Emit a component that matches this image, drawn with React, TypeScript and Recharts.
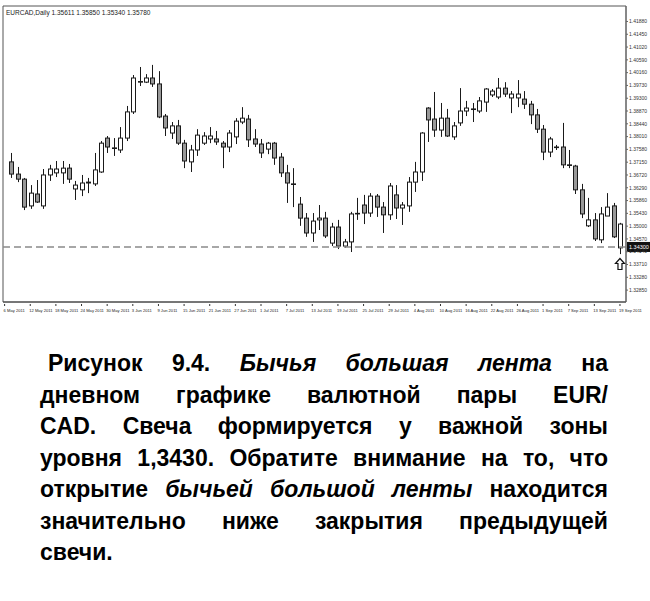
import React from 'react';
import { Bar, ComposedChart, ReferenceArea, ReferenceDot, ReferenceLine, XAxis, YAxis } from 'recharts';

// Daily EURCAD candles, 96 bars
const OPEN = [
    1.3716, 1.3675, 1.3658, 1.3568, 1.3608, 1.3568, 1.3672, 1.3679, 1.3679, 1.3695,
    1.3625, 1.3622, 1.3645, 1.3642, 1.3682, 1.3796, 1.3763, 1.3756, 1.3796, 1.3884,
    1.3984, 1.3984, 1.3998, 1.3978, 1.3870, 1.3813, 1.3837, 1.3779, 1.3716, 1.3756,
    1.3779, 1.3793, 1.3793, 1.3779, 1.3766, 1.3800, 1.3850, 1.3860, 1.3793, 1.3776,
    1.3759, 1.3779, 1.3732, 1.3679, 1.3642, 1.3574, 1.3527, 1.3477, 1.3521, 1.3527,
    1.3443, 1.3497, 1.3433, 1.3447, 1.3541, 1.3571, 1.3544, 1.3601, 1.3564, 1.3538,
    1.3605, 1.3561, 1.3568, 1.3648, 1.3682, 1.3897, 1.3860, 1.3823, 1.3863, 1.3800,
    1.3847, 1.3887, 1.3894, 1.3887, 1.3917, 1.3941, 1.3934, 1.3964, 1.3931, 1.3931,
    1.3927, 1.3910, 1.3874, 1.3826, 1.3749, 1.3766, 1.3766, 1.3706, 1.3702, 1.3622,
    1.3501, 1.3521, 1.3454, 1.3534, 1.3568, 1.3427,
];
const HIGH = [
    1.3746, 1.3699, 1.3662, 1.3638, 1.3655, 1.3692, 1.3706, 1.3719, 1.3719, 1.3709,
    1.3652, 1.3672, 1.3662, 1.3746, 1.3786, 1.3803, 1.3796, 1.3833, 1.3904, 1.4008,
    1.4035, 1.4011, 1.4042, 1.4021, 1.3877, 1.3850, 1.3857, 1.3790, 1.3773, 1.3826,
    1.3816, 1.3833, 1.3820, 1.3786, 1.3823, 1.3863, 1.3900, 1.3874, 1.3826, 1.3793,
    1.3783, 1.3783, 1.3746, 1.3706, 1.3695, 1.3598, 1.3544, 1.3544, 1.3571, 1.3548,
    1.3511, 1.3521, 1.3457, 1.3548, 1.3595, 1.3605, 1.3611, 1.3608, 1.3581, 1.3645,
    1.3638, 1.3581, 1.3665, 1.3716, 1.3816, 1.3900, 1.3951, 1.3914, 1.3894, 1.3850,
    1.3964, 1.3921, 1.3914, 1.3934, 1.3964, 1.3961, 1.3998, 1.3984, 1.3954, 1.3991,
    1.3954, 1.3921, 1.3894, 1.3840, 1.3800, 1.3773, 1.3847, 1.3756, 1.3706, 1.3642,
    1.3595, 1.3544, 1.3564, 1.3611, 1.3578, 1.3511,
];
const LOW = [
    1.3662, 1.3648, 1.3554, 1.3558, 1.3578, 1.3558, 1.3652, 1.3665, 1.3642, 1.3645,
    1.3588, 1.3601, 1.3611, 1.3635, 1.3679, 1.3746, 1.3736, 1.3746, 1.3786, 1.3877,
    1.3971, 1.3981, 1.3968, 1.3863, 1.3803, 1.3793, 1.3773, 1.3695, 1.3682, 1.3736,
    1.3773, 1.3779, 1.3773, 1.3695, 1.3749, 1.3776, 1.3843, 1.3766, 1.3766, 1.3729,
    1.3742, 1.3706, 1.3665, 1.3578, 1.3564, 1.3501, 1.3464, 1.3447, 1.3487, 1.3460,
    1.3433, 1.3423, 1.3427, 1.3413, 1.3521, 1.3507, 1.3531, 1.3531, 1.3477, 1.3521,
    1.3524, 1.3504, 1.3548, 1.3615, 1.3652, 1.3783, 1.3800, 1.3800, 1.3800, 1.3790,
    1.3837, 1.3870, 1.3850, 1.3880, 1.3884, 1.3934, 1.3927, 1.3934, 1.3880, 1.3900,
    1.3894, 1.3843, 1.3813, 1.3722, 1.3732, 1.3756, 1.3695, 1.3695, 1.3608, 1.3527,
    1.3497, 1.3450, 1.3443, 1.3534, 1.3460, 1.3406,
];
const CLOSE = [
    1.3675, 1.3658, 1.3564, 1.3611, 1.3581, 1.3672, 1.3692, 1.3692, 1.3695, 1.3658,
    1.3638, 1.3645, 1.3648, 1.3689, 1.3779, 1.3766, 1.3761, 1.3796, 1.3884, 1.3998,
    1.3986, 1.3998, 1.3978, 1.3867, 1.3830, 1.3837, 1.3779, 1.3719, 1.3756, 1.3806,
    1.3803, 1.3803, 1.3783, 1.3766, 1.3813, 1.3853, 1.3863, 1.3790, 1.3776, 1.3746,
    1.3779, 1.3729, 1.3679, 1.3645, 1.3640, 1.3527, 1.3477, 1.3517, 1.3527, 1.3467,
    1.3497, 1.3433, 1.3447, 1.3541, 1.3543, 1.3544, 1.3601, 1.3564, 1.3538, 1.3635,
    1.3561, 1.3571, 1.3648, 1.3682, 1.3813, 1.3857, 1.3823, 1.3863, 1.3803, 1.3837,
    1.3887, 1.3897, 1.3892, 1.3921, 1.3961, 1.3954, 1.3964, 1.3944, 1.3944, 1.3944,
    1.3910, 1.3874, 1.3826, 1.3749, 1.3793, 1.3764, 1.3706, 1.3704, 1.3622, 1.3541,
    1.3521, 1.3457, 1.3541, 1.3564, 1.3464, 1.3507,
];

const LEVEL = 1.3430;
const ARROW_PRICE = 1.3371;

const PRICE_TICKS = [
    1.3285, 1.3328, 1.3371, 1.3414, 1.3457, 1.3500, 1.3543, 1.3586, 1.3629, 1.3672, 1.3715,
    1.3758, 1.3801, 1.3844, 1.3887, 1.3930, 1.3973, 1.4016, 1.4059, 1.4102, 1.4145, 1.4188,
];

// bar index where each date label sits
const DATE_TICKS = [-1, 3, 7, 11, 15, 19, 23, 27, 31, 35, 39, 43, 47, 51, 55, 59, 63, 67, 71, 75, 79, 83, 87, 91, 95];
const DATE_LABELS = [
    '6 May 2011', '12 May 2011', '18 May 2011', '24 May 2011', '30 May 2011', '3 Jun 2011', '9 Jun 2011',
    '15 Jun 2011', '21 Jun 2011', '27 Jun 2011', '1 Jul 2011', '7 Jul 2011', '13 Jul 2011', '19 Jul 2011',
    '25 Jul 2011', '29 Jul 2011', '4 Aug 2011', '10 Aug 2011', '16 Aug 2011', '22 Aug 2011', '26 Aug 2011',
    '1 Sep 2011', '7 Sep 2011', '13 Sep 2011', '19 Sep 2011',
];

const X_DOMAIN: [number, number] = [-1.25, 95.94];
const Y_DOMAIN: [number, number] = [1.3245, 1.424];

const candles = OPEN.map((open, i) => ({
    i,
    open,
    high: HIGH[i],
    low: LOW[i],
    close: CLOSE[i],
    range: [LOW[i], HIGH[i]],
}));

const FONT = '"Liberation Sans", Arial, sans-serif';

// wick + body, scaled from the bar's low/high box
const Candle = (props: any) => {
    const { x, y, width, height, payload } = props;
    if (!payload || height == null) return null;
    const { open, close, high, low } = payload;
    const k = height / (high - low);
    const cx = Math.round(x + width / 2) + 0.5;
    const yO = y + (high - open) * k;
    const yC = y + (high - close) * k;
    const top = Math.min(yO, yC);
    const h = Math.max(Math.abs(yO - yC), 0.5);
    const bear = close < open;
    return (
        <g>
            <line x1={cx} x2={cx} y1={y} y2={y + height} stroke="#1a1a1a" strokeWidth={1} />
            <rect x={cx - 2} y={top} width={4} height={h} fill={bear ? '#999999' : '#ffffff'} stroke="#1a1a1a" strokeWidth={1} />
        </g>
    );
};

const DateTick = (props: any) => {
    const { x, y, payload } = props;
    const idx = DATE_TICKS.indexOf(payload.value);
    return (
        <g>
            <line x1={x} x2={x} y1={y} y2={y + 2} stroke="#333" />
            <text x={x - 1} y={y + 8} fontSize={4.1} fontFamily={FONT} fill="#222" textAnchor="start">
                {DATE_LABELS[idx]}
            </text>
        </g>
    );
};

const PriceTag = (props: any) => {
    const { viewBox } = props;
    if (!viewBox) return null;
    const x = viewBox.x + viewBox.width + 1;
    const y = viewBox.y;
    return (
        <g>
            <rect x={x} y={y - 5} width={23} height={10} fill="#111" />
            <text x={x + 2} y={y + 2} fontSize={5.5} fontFamily={FONT} fill="#fff">
                {LEVEL.toFixed(5)}
            </text>
        </g>
    );
};

const UpArrow = (props: any) => {
    const { cx, cy } = props;
    const pts = [
        [cx, cy - 6], [cx + 4.5, cy - 1], [cx + 2, cy - 1], [cx + 2, cy + 5],
        [cx - 2, cy + 5], [cx - 2, cy - 1], [cx - 4.5, cy - 1],
    ].map(p => p.join(',')).join(' ');
    return <polygon points={pts} fill="#fff" stroke="#111" strokeWidth={1.2} />;
};

const CAPTION: React.ReactNode[] = [
    <>Рисунок 9.4. <i>Бычья большая лента</i> на</>,
    <>дневном графике валютной пары EUR/</>,
    <>CAD. Свеча формируется у важной зоны</>,
    <>уровня 1,3430. Обратите внимание на то, что</>,
    <>открытие <i>бычьей большой ленты</i> находится</>,
    <>значительно ниже закрытия предыдущей</>,
    <>свечи.</>,
];

export default function App() {
    return (
        <div style={{ position: 'absolute', left: 0, top: 0, width: 650, height: 601, background: '#fff' }}>
            <ComposedChart width={650} height={320} data={candles} margin={{ top: 6, right: 0, bottom: 0, left: 3 }}>
                <XAxis
                    type="number"
                    dataKey="i"
                    domain={X_DOMAIN}
                    ticks={DATE_TICKS}
                    tick={<DateTick />}
                    tickLine={false}
                    tickSize={0}
                    height={18}
                    axisLine={{ stroke: '#444' }}
                    allowDataOverflow
                    interval={0}
                />
                <YAxis
                    orientation="right"
                    domain={Y_DOMAIN}
                    ticks={PRICE_TICKS}
                    width={24}
                    tickSize={2}
                    tickMargin={1}
                    tick={{ fontSize: 5, fill: '#333', fontFamily: FONT, textAnchor: 'start' }}
                    tickFormatter={(v: number) => v.toFixed(5)}
                    axisLine={{ stroke: '#666' }}
                    tickLine={{ stroke: '#666' }}
                    allowDataOverflow
                    interval={0}
                />
                <ReferenceArea x1={X_DOMAIN[0]} x2={X_DOMAIN[1]} y1={Y_DOMAIN[0]} y2={Y_DOMAIN[1]} fill="none" stroke="#555" strokeWidth={1} />
                <ReferenceLine y={LEVEL} stroke="#8a8a8a" strokeWidth={1.5} strokeDasharray="7 4" label={<PriceTag />} />
                <Bar dataKey="range" barSize={5} shape={<Candle />} isAnimationActive={false} />
                <ReferenceDot x={95} y={ARROW_PRICE} r={0} shape={<UpArrow />} />
            </ComposedChart>
            <div style={{ position: 'absolute', left: 6, top: 9, fontSize: 6.5, fontFamily: FONT, color: '#222', whiteSpace: 'nowrap' }}>
                EURCAD,Daily 1.35611 1.35850 1.35340 1.35780
            </div>
            <div style={{ position: 'absolute', left: 40, top: 348, width: 568, fontFamily: FONT, fontWeight: 'bold', fontSize: 23, lineHeight: '31.5px', color: '#000' }}>
                {CAPTION.map((line, i) => (
                    <div
                        key={i}
                        style={{
                            textAlign: i === CAPTION.length - 1 ? 'left' : 'justify',
                            textAlignLast: i === CAPTION.length - 1 ? 'left' : 'justify',
                            textIndent: i === 0 ? 8 : 0,
                            whiteSpace: 'nowrap',
                        }}
                    >
                        {line}
                    </div>
                ))}
            </div>
        </div>
    );
}
